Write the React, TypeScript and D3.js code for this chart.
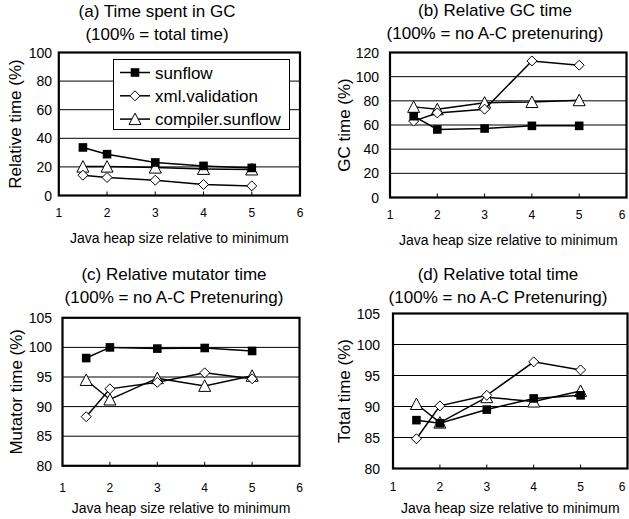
import React from "react";
import * as d3 from "d3";

// ---- data ----
const heapSizes = [1.5, 2, 3, 4, 5];
const seriesNames = ["sunflow", "xml.validation", "compiler.sunflow"];

const gcShareSunflow = [33.6, 28.9, 23.1, 20.7, 19.3];
const gcShareXml = [14.2, 12.6, 10.7, 7.7, 6.7];
const gcShareCompiler = [20.2, 20.2, 19.5, 18.6, 18.2];

const gcRelSunflow = [67.3, 56.3, 57.1, 59.3, 59.3];
const gcRelXml = [63.2, 70.0, 73.1, 113.0, 109.5];
const gcRelCompiler = [75.0, 73.0, 78.5, 79.0, 80.5];

const mutSunflow = [98.2, 100.0, 99.8, 99.9, 99.4];
const mutXml = [88.3, 93.0, 94.1, 95.7, 94.7];
const mutCompiler = [94.5, 91.2, 94.8, 93.5, 95.2];

const totSunflow = [87.8, 87.3, 89.5, 91.3, 91.8];
const totXml = [84.8, 90.1, 91.8, 97.2, 95.9];
const totCompiler = [90.4, 87.4, 91.5, 90.8, 92.5];

const xTickValues = [1, 2, 3, 4, 5, 6];
const yTicksA = [0, 20, 40, 60, 80, 100];
const yTicksB = [0, 20, 40, 60, 80, 100, 120];
const yTicksCD = [80, 85, 90, 95, 100, 105];

const xAxisTitle = "Java heap size relative to minimum";

const FONT = "'Liberation Sans', Arial, Helvetica, sans-serif";

type PanelCfg = {
  title1: string;
  title2: string;
  yLabel: string;
  series: number[][];
  yTicks: number[];
  box: { l: number; r: number; t: number; b: number };
  titleX: number;
  titleY1: number;
  titleY2: number;
  yLabelX: number;
  yTickRight: number;
  xTickBase: number;
  xTitleBase: number;
  legend?: boolean;
};

const panels: PanelCfg[] = [
  {
    title1: "(a) Time spent in GC",
    title2: "(100% = total time)",
    yLabel: "Relative time (%)",
    series: [gcShareSunflow, gcShareXml, gcShareCompiler],
    yTicks: yTicksA,
    box: { l: 58.8, r: 300, t: 52.5, b: 195.5 },
    titleX: 157,
    titleY1: 17,
    titleY2: 40,
    yLabelX: 15,
    yTickRight: 52,
    xTickBase: 217,
    xTitleBase: 243,
    legend: true,
  },
  {
    title1: "(b) Relative GC time",
    title2: "(100% = no A-C pretenuring)",
    yLabel: "GC time (%)",
    series: [gcRelSunflow, gcRelXml, gcRelCompiler],
    yTicks: yTicksB,
    box: { l: 390, r: 626.5, t: 52.5, b: 197.5 },
    titleX: 495,
    titleY1: 16,
    titleY2: 39,
    yLabelX: 344,
    yTickRight: 379,
    xTickBase: 219,
    xTitleBase: 245,
  },
  {
    title1: "(c) Relative mutator time",
    title2: "(100% = no A-C Pretenuring)",
    yLabel: "Mutator time (%)",
    series: [mutSunflow, mutXml, mutCompiler],
    yTicks: yTicksCD,
    box: { l: 62.5, r: 299.5, t: 317.8, b: 465.8 },
    titleX: 174,
    titleY1: 280,
    titleY2: 303,
    yLabelX: 16.5,
    yTickRight: 52,
    xTickBase: 492,
    xTitleBase: 513,
  },
  {
    title1: "(d) Relative total time",
    title2: "(100% = no A-C Pretenuring)",
    yLabel: "Total time (%)",
    series: [totSunflow, totXml, totCompiler],
    yTicks: yTicksCD,
    box: { l: 393, r: 627.5, t: 313.5, b: 468.5 },
    titleX: 498,
    titleY1: 280,
    titleY2: 303,
    yLabelX: 344,
    yTickRight: 380,
    xTickBase: 491,
    xTitleBase: 513,
  },
];

function Marker({ kind, x, y }: { kind: number; x: number; y: number }) {
  if (kind === 0) {
    return <rect x={x - 4.3} y={y - 4.3} width={8.6} height={8.6} fill="#000" />;
  }
  if (kind === 1) {
    const s = 5;
    return (
      <path
        d={`M${x},${y - s}L${x + s},${y}L${x},${y + s}L${x - s},${y}Z`}
        fill="#fff"
        stroke="#000"
        strokeWidth={1}
      />
    );
  }
  const w = 6;
  return (
    <path
      d={`M${x},${y - 6}L${x + w},${y + 5.5}L${x - w},${y + 5.5}Z`}
      fill="#fff"
      stroke="#000"
      strokeWidth={1}
    />
  );
}

function Panel({ cfg }: { cfg: PanelCfg }) {
  const { box } = cfg;
  const x = d3.scaleLinear().domain([1, 6]).range([box.l, box.r]);
  const yDom = d3.extent(cfg.yTicks) as [number, number];
  const y = d3.scaleLinear().domain(yDom).range([box.b, box.t]);
  const line = d3
    .line<number>()
    .x((_, i) => x(heapSizes[i]))
    .y((d) => y(d));
  const yMid = (box.t + box.b) / 2;
  const xMid = (box.l + box.r) / 2;

  return (
    <g fontFamily={FONT}>
      <text x={cfg.titleX} y={cfg.titleY1} textAnchor="middle" fontSize={17}>
        {cfg.title1}
      </text>
      <text x={cfg.titleX} y={cfg.titleY2} textAnchor="middle" fontSize={17}>
        {cfg.title2}
      </text>
      <rect x={box.l} y={box.t} width={box.r - box.l} height={box.b - box.t} fill="#fff" />
      {cfg.yTicks.slice(1, -1).map((t) => (
        <line key={t} x1={box.l} x2={box.r} y1={y(t)} y2={y(t)} stroke="#000" strokeWidth={1} />
      ))}
      {xTickValues.slice(1, -1).map((t) => (
        <line key={t} x1={x(t)} x2={x(t)} y1={box.b} y2={box.b - 4} stroke="#000" strokeWidth={1} />
      ))}
      {[2, 1, 0].map((si) => (
        <g key={si}>
          <path d={line(cfg.series[si]) || ""} fill="none" stroke="#000" strokeWidth={1.5} />
          {cfg.series[si].map((v, i) => (
            <Marker key={i} kind={si} x={x(heapSizes[i])} y={y(v)} />
          ))}
        </g>
      ))}
      <rect
        x={box.l}
        y={box.t}
        width={box.r - box.l}
        height={box.b - box.t}
        fill="none"
        stroke="#000"
        strokeWidth={2.2}
      />
      {cfg.yTicks.map((t) => (
        <text key={t} x={cfg.yTickRight} y={y(t)} dy="0.36em" textAnchor="end" fontSize={14}>
          {t}
        </text>
      ))}
      {xTickValues.map((t) => (
        <text key={t} x={Math.min(x(t), 622)} y={cfg.xTickBase} textAnchor="middle" fontSize={12}>
          {t}
        </text>
      ))}
      <text x={xMid} y={cfg.xTitleBase} textAnchor="middle" fontSize={14}>
        {xAxisTitle}
      </text>
      <text
        transform={`translate(${cfg.yLabelX},${yMid}) rotate(-90)`}
        textAnchor="middle"
        dy="0.35em"
        fontSize={17}
      >
        {cfg.yLabel}
      </text>
      {cfg.legend && (
        <g>
          <rect x={113.5} y={59.5} width={176} height={70} fill="#fff" stroke="#000" strokeWidth={1} />
          {seriesNames.map((name, i) => {
            const ly = 72.5 + i * 23.3;
            return (
              <g key={name}>
                <line x1={120} x2={150} y1={ly} y2={ly} stroke="#000" strokeWidth={1.5} />
                <Marker kind={i} x={135} y={ly} />
                <text x={155} y={ly} dy="0.36em" fontSize={17}>
                  {name}
                </text>
              </g>
            );
          })}
        </g>
      )}
    </g>
  );
}

export default function App() {
  return (
    <svg
      width={629}
      height={519}
      style={{ position: "absolute", left: 0, top: 0, background: "#fff" }}
    >
      <rect width={629} height={519} fill="#fff" />
      {panels.map((p, i) => (
        <Panel key={i} cfg={p} />
      ))}
    </svg>
  );
}
